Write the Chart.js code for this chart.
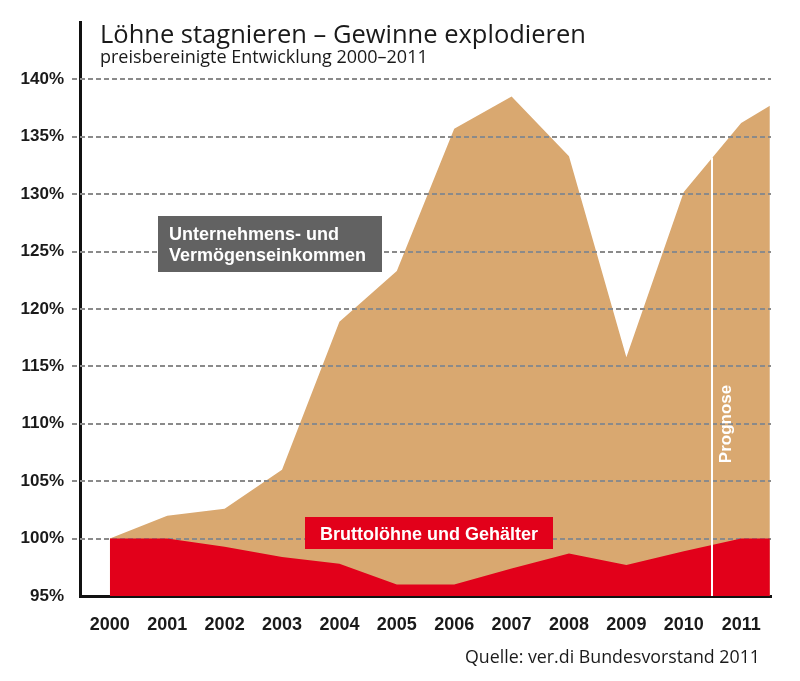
<!DOCTYPE html>
<html>
<head>
<meta charset="utf-8">
<script src="https://cdn.jsdelivr.net/npm/chart.js@4.4.1/dist/chart.umd.min.js"></script>
<style>
html, body { margin: 0; padding: 0; background: #fff; }
</style>
</head>
<body>
<canvas id="lohnChart" width="800" height="681"></canvas>
<script>
let years = [2000, 2001, 2002, 2003, 2004, 2005, 2006, 2007, 2008, 2009, 2010, 2011];

// letzter Punkt reicht bis zum rechten Rand (Mitte 2011)
let pointYears = [2000, 2001, 2002, 2003, 2004, 2005, 2006, 2007, 2008, 2009, 2010, 2011, 2011.5];
let profitValues = [100, 102.0, 102.6, 106.0, 118.9, 123.3, 135.7, 138.5, 133.3, 115.8, 130.2, 136.2, 137.7];
let wageValues = [100, 100, 99.3, 98.4, 97.8, 96.0, 96.0, 97.4, 98.7, 97.7, 98.9, 100, 100];

let yTicks = [95, 100, 105, 110, 115, 120, 125, 130, 135, 140];
let prognoseYear = 2010.5;

let tan = '#d9a870';
let red = '#e2001a';

function toPoints(values){
    return values.map((v, i) => ({ x: pointYears[i], y: v }));
}

const overlay = {
    id: 'overlay',

    // gestrichelte Linien über der Gewinnfläche, unter der Lohnfläche
    afterDatasetDraw(chart, args){
        if(args.index !== 1) return;
        let ctx = chart.ctx;
        let area = chart.chartArea;
        let y = chart.scales.y;
        ctx.save();
        ctx.strokeStyle = '#8a8a8a';
        ctx.lineWidth = 2;
        ctx.setLineDash([5, 3]);
        yTicks.forEach(v => {
            if(v === 95) return;
            let py = Math.round(y.getPixelForValue(v));
            ctx.beginPath();
            ctx.moveTo(area.left - 8, py);
            ctx.lineTo(area.right, py);
            ctx.stroke();
        });
        ctx.restore();
    },

    afterDatasetsDraw(chart){
        let ctx = chart.ctx;
        let x = chart.scales.x;
        let y = chart.scales.y;

        // Prognose-Linie
        let i = pointYears.indexOf(2010);
        let topVal = profitValues[i] + (profitValues[i + 1] - profitValues[i]) * (prognoseYear - 2010);
        let px = Math.round(x.getPixelForValue(prognoseYear));
        ctx.save();
        ctx.strokeStyle = '#ffffff';
        ctx.lineWidth = 2;
        ctx.beginPath();
        ctx.moveTo(px, y.getPixelForValue(topVal));
        ctx.lineTo(px, chart.chartArea.bottom);
        ctx.stroke();

        ctx.translate(px + 14, 424);
        ctx.rotate(-Math.PI / 2);
        ctx.fillStyle = '#ffffff';
        ctx.font = 'bold 17px "Liberation Sans", Arial, sans-serif';
        ctx.textAlign = 'center';
        ctx.textBaseline = 'middle';
        ctx.fillText('Prognose', 0, 0);
        ctx.restore();

        // Beschriftungsboxen
        ctx.save();
        ctx.fillStyle = '#626262';
        ctx.fillRect(158, 216, 224, 56);
        ctx.fillStyle = red;
        ctx.fillRect(305, 517, 248, 32);

        ctx.fillStyle = '#ffffff';
        ctx.font = 'bold 18px "Liberation Sans", Arial, sans-serif';
        ctx.textAlign = 'left';
        ctx.textBaseline = 'alphabetic';
        ctx.fillText('Unternehmens- und', 169, 240);
        ctx.fillText('Vermögenseinkommen', 169, 261);
        ctx.textAlign = 'center';
        ctx.fillText('Bruttolöhne und Gehälter', 429, 540);
        ctx.restore();
    },

    afterDraw(chart){
        let ctx = chart.ctx;
        ctx.save();
        ctx.fillStyle = '#1a1a1a';
        ctx.textBaseline = 'alphabetic';
        ctx.textAlign = 'left';
        ctx.font = '25.5px "Open Sans", sans-serif';
        ctx.fillText('Löhne stagnieren – Gewinne explodieren', 100, 43);
        ctx.font = '18px "Open Sans", sans-serif';
        ctx.fillText('preisbereinigte Entwicklung 2000–2011', 100, 63);
        ctx.textAlign = 'right';
        ctx.font = '17.8px "Open Sans", sans-serif';
        ctx.fillText('Quelle: ver.di Bundesvorstand 2011', 760, 663);
        ctx.restore();
    }
};

let ctx = document.getElementById('lohnChart').getContext('2d');

let chart = new Chart(ctx, {
    type: 'line',
    data: {
        datasets: [{
            label: 'Bruttolöhne und Gehälter',
            data: toPoints(wageValues),
            borderWidth: 0,
            pointRadius: 0,
            backgroundColor: red,
            fill: 'start'
        }, {
            label: 'Unternehmens- und Vermögenseinkommen',
            data: toPoints(profitValues),
            borderWidth: 0,
            pointRadius: 0,
            backgroundColor: tan,
            fill: 'start'
        }]
    },
    options: {
        responsive: false,
        animation: false,
        layout: { padding: { top: 22, right: 29, left: 0, bottom: 0 } },
        plugins: {
            legend: { display: false },
            tooltip: { enabled: false }
        },
        scales: {
            x: {
                type: 'linear',
                min: 1999.48,
                max: 2011.52,
                z: 1,
                afterBuildTicks: s => { s.ticks = years.map(v => ({ value: v })); },
                afterFit: s => { s.height = 85; s.paddingLeft = 0; s.paddingRight = 0; },
                grid: { display: false, drawTicks: false },
                border: { display: true, color: '#111', width: 3 },
                ticks: {
                    callback: v => String(v),
                    autoSkip: false,
                    maxRotation: 0,
                    padding: 18,
                    color: '#1a1a1a',
                    font: { family: '"Liberation Sans", Arial, sans-serif', size: 18, weight: 'bold' }
                }
            },
            y: {
                min: 95,
                max: 145,
                z: 1,
                afterBuildTicks: s => { s.ticks = yTicks.map(v => ({ value: v })); },
                afterFit: s => { s.width = 80; s.paddingTop = 0; s.paddingBottom = 0; },
                grid: { display: false, drawTicks: false },
                border: { display: true, color: '#111', width: 3 },
                ticks: {
                    callback: v => v + '%',
                    padding: 16,
                    color: '#1a1a1a',
                    font: { family: '"Liberation Sans", Arial, sans-serif', size: 17, weight: 'bold' }
                }
            }
        }
    },
    plugins: [overlay]
});
</script>
</body>
</html>
